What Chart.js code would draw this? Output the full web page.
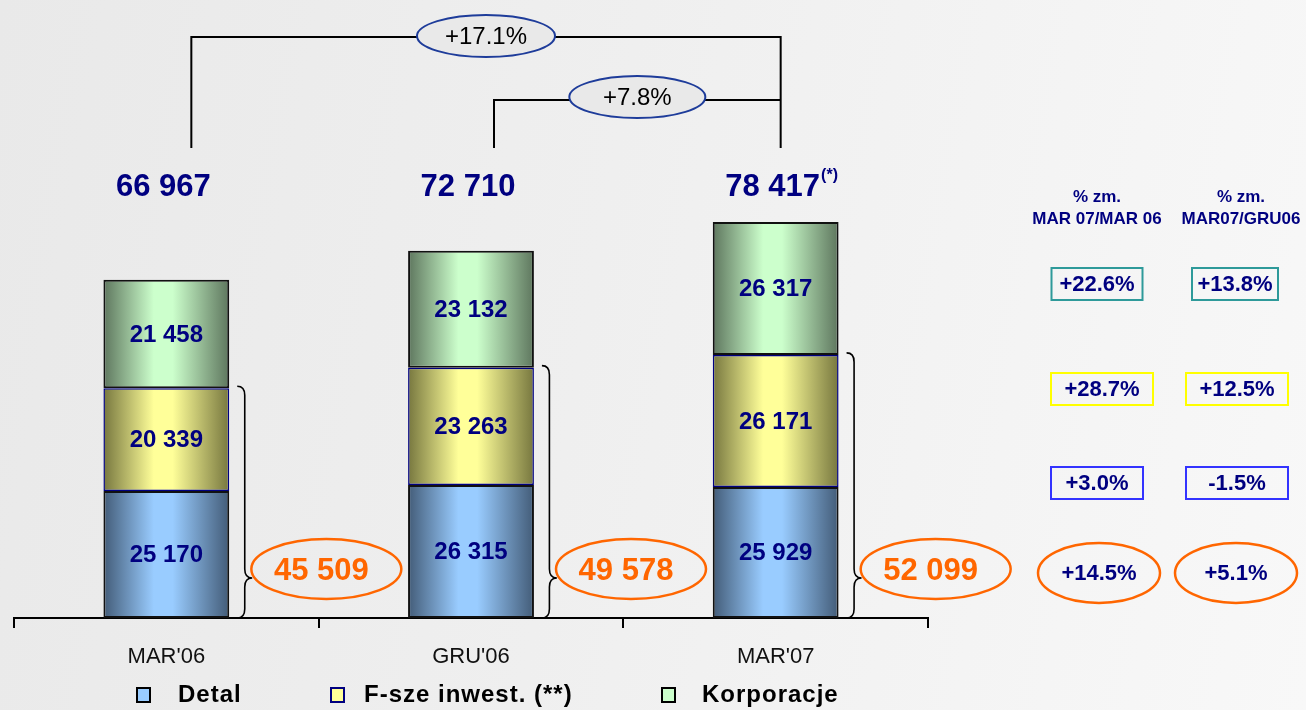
<!DOCTYPE html>
<html>
<head>
<meta charset="utf-8">
<script src="https://cdn.jsdelivr.net/npm/chart.js@4.4.1/dist/chart.umd.min.js"></script>
<style>
  html, body { margin: 0; padding: 0; }
  body {
    width: 1306px; height: 710px; overflow: hidden;
    background: linear-gradient(100deg, #e9e9e9 0%, #efefef 45%, #f8f8f8 100%);
  }
</style>
</head>
<body>
<canvas id="chart" width="1306" height="710"></canvas>
<script>
// data
const periods = ["MAR'06", "GRU'06", "MAR'07"];
const detal = [25170, 26315, 25929];
const funds = [20339, 23263, 26171];
const corporate = [21458, 23132, 26317];
const retailPlusFunds = [45509, 49578, 52099];
const totals = [66967, 72710, 78417];
const totalNotes = ["", "", "(*)"];
const growthLabels = ["+17.1%", "+7.8%"]; // vs MAR'06, vs GRU'06
// order: Detal, F-sze, Korporacje, Detal + F-sze
const changeYearHeader = ["% zm.", "MAR 07/MAR 06"];
const changeQuarterHeader = ["% zm.", "MAR07/GRU06"];
const changeYear = ["+3.0%", "+28.7%", "+22.6%", "+14.5%"];
const changeQuarter = ["-1.5%", "+12.5%", "+13.8%", "+5.1%"];

const FONT = '"Liberation Sans", Arial, sans-serif';
const NAVY = "#000080";
const ORANGE = "#ff6600";

const shades = {
  detal: ["#435c78", "#99ccff"],
  funds: ["#77773f", "#ffff99"],
  corporate: ["#5e765e", "#ccffcc"],
};

const fmt = (n) => String(n).replace(/\B(?=(\d{3})+(?!\d))/g, " ");

// cylinder-like horizontal gradient for each bar
function barFill(pair) {
  return (c) => {
    const chart = c.chart;
    if (!chart.chartArea) return pair[1];
    const xs = chart.scales.x;
    const cx = xs.getPixelForValue(c.dataIndex);
    const w = (xs.width / periods.length) * 0.413;
    const g = chart.ctx.createLinearGradient(cx - w / 2, 0, cx + w / 2, 0);
    g.addColorStop(0, pair[0]);
    g.addColorStop(0.4, pair[1]);
    g.addColorStop(0.55, pair[1]);
    g.addColorStop(1, pair[0]);
    return g;
  };
}

function ellipse(ctx, cx, cy, rx, ry, fill, stroke, lw) {
  ctx.beginPath();
  ctx.ellipse(cx, cy, rx, ry, 0, 0, Math.PI * 2);
  if (fill) { ctx.fillStyle = fill; ctx.fill(); }
  ctx.lineWidth = lw;
  ctx.strokeStyle = stroke;
  ctx.stroke();
}

function brace(ctx, x, yTop, yTip, yBot, w) {
  const m = x + w / 2, r = 9;
  ctx.beginPath();
  ctx.moveTo(x, yTop);
  ctx.quadraticCurveTo(m, yTop, m, yTop + r);
  ctx.lineTo(m, yTip - r);
  ctx.quadraticCurveTo(m, yTip, x + w, yTip);
  ctx.quadraticCurveTo(m, yTip, m, yTip + r);
  ctx.lineTo(m, yBot - r);
  ctx.quadraticCurveTo(m, yBot, x, yBot);
  ctx.lineWidth = 1.6;
  ctx.strokeStyle = "#000";
  ctx.stroke();
}

const annotations = {
  id: "annotations",
  afterDatasetsDraw(chart) {
    const ctx = chart.ctx;
    const xs = chart.scales.x;
    const base = chart.chartArea.bottom;
    const series = [detal, funds, corporate];
    ctx.save();
    ctx.textAlign = "center";
    ctx.textBaseline = "middle";

    // values inside segments
    ctx.fillStyle = NAVY;
    ctx.font = "bold 24px " + FONT;
    series.forEach((vals, d) => {
      chart.getDatasetMeta(d).data.forEach((el, i) => {
        ctx.fillText(fmt(vals[i]), el.x, (el.y + el.base) / 2 + 1);
      });
    });

    // totals above bars
    const m0 = chart.getDatasetMeta(0).data;
    totals.forEach((t, i) => {
      const x = m0[i].x - 3;
      ctx.font = "bold 31px " + FONT;
      ctx.fillStyle = NAVY;
      ctx.fillText(fmt(t), x, 187);
      if (totalNotes[i]) {
        const w = ctx.measureText(fmt(t)).width;
        ctx.font = "bold 16px " + FONT;
        ctx.textAlign = "left";
        ctx.fillText(totalNotes[i], x + w / 2 + 1, 176);
        ctx.textAlign = "center";
      }
    });

    // growth brackets on top
    const x0 = xs.getPixelForValue(0) + 25;
    const x1 = xs.getPixelForValue(1) + 23;
    const x2 = xs.getPixelForValue(2) + 5;
    ctx.strokeStyle = "#000";
    ctx.lineWidth = 2;
    ctx.beginPath();
    ctx.moveTo(x0, 148); ctx.lineTo(x0, 37); ctx.lineTo(x2, 37); ctx.lineTo(x2, 148);
    ctx.moveTo(x1, 148); ctx.lineTo(x1, 100); ctx.lineTo(x2, 100);
    ctx.stroke();
    ctx.font = "24px " + FONT;
    [[(x0 + x2) / 2, 36, 69], [(x1 + x2) / 2, 97, 68]].forEach(([cx, cy, rx], k) => {
      ellipse(ctx, cx, cy, rx, 21, "#e9e9e9", "#1e3c9a", 2);
      ctx.fillStyle = "#000";
      ctx.fillText(growthLabels[k], cx, cy + 1);
    });

    // braces and Detal + F-sze sums
    const m1 = chart.getDatasetMeta(1).data;
    retailPlusFunds.forEach((v, i) => {
      const el = m1[i];
      const right = el.x + el.width / 2;
      brace(ctx, right + 8, el.y - 2, 578, base, 15);
      ellipse(ctx, el.x + 160, 569, 75, 30, null, ORANGE, 2.5);
      ctx.fillStyle = ORANGE;
      ctx.font = "bold 31px " + FONT;
      ctx.fillText(fmt(v), el.x + 155, 571);
    });

    // change table on the right
    ctx.fillStyle = NAVY;
    ctx.font = "bold 17px " + FONT;
    [[changeYearHeader, 1097], [changeQuarterHeader, 1241]].forEach(([h, cx]) => {
      ctx.fillText(h[0], cx, 197);
      ctx.fillText(h[1], cx, 219);
    });
    const rows = [
      { y: 483, color: "#3333ff", w: [92, 102], cx: [1097, 1237] },
      { y: 389, color: "#ffff00", w: [102, 102], cx: [1102, 1237] },
      { y: 284, color: "#2e9a9a", w: [91, 86], cx: [1097, 1235] },
    ];
    ctx.font = "bold 22px " + FONT;
    rows.forEach((r, k) => {
      [changeYear[k], changeQuarter[k]].forEach((txt, j) => {
        ctx.lineWidth = 2;
        ctx.strokeStyle = r.color;
        ctx.strokeRect(r.cx[j] - r.w[j] / 2, r.y - 16, r.w[j], 32);
        ctx.fillStyle = NAVY;
        ctx.fillText(txt, r.cx[j], r.y + 1);
      });
    });
    [[changeYear[3], 1099], [changeQuarter[3], 1236]].forEach(([txt, cx]) => {
      ellipse(ctx, cx, 573, 61, 30, null, ORANGE, 2.5);
      ctx.fillStyle = NAVY;
      ctx.fillText(txt, cx, 574);
    });

    // legend
    const legendPos = [[137, 178], [331, 364], [662, 702]];
    const legendBorder = ["#000", NAVY, "#000"];
    const legendFill = [shades.detal[1], shades.funds[1], shades.corporate[1]];
    ctx.textAlign = "left";
    ctx.font = "bold 24px " + FONT;
    ctx.letterSpacing = "1px";
    chart.data.datasets.forEach((ds, d) => {
      const [bx, tx] = legendPos[d];
      ctx.fillStyle = legendFill[d];
      ctx.fillRect(bx, 688, 13, 14);
      ctx.lineWidth = 2;
      ctx.strokeStyle = legendBorder[d];
      ctx.strokeRect(bx, 688, 13, 14);
      ctx.fillStyle = "#000";
      ctx.fillText(ds.label, tx, 695);
    });
    ctx.restore();
  },
};

new Chart(document.getElementById("chart"), {
  type: "bar",
  data: {
    labels: periods,
    datasets: [
      { label: "Detal", data: detal, backgroundColor: barFill(shades.detal), borderColor: "#111", borderWidth: 2 },
      { label: "F-sze inwest. (**)", data: funds, backgroundColor: barFill(shades.funds), borderColor: NAVY, borderWidth: 1.5 },
      { label: "Korporacje", data: corporate, backgroundColor: barFill(shades.corporate), borderColor: "#111", borderWidth: 2 },
    ],
  },
  options: {
    responsive: false,
    animation: false,
    devicePixelRatio: 1,
    layout: { padding: { left: 14, right: 378, top: 12, bottom: 0 } },
    datasets: { bar: { categoryPercentage: 0.413, barPercentage: 1, borderSkipped: false } },
    plugins: { legend: { display: false }, tooltip: { enabled: false } },
    scales: {
      x: {
        stacked: true,
        afterFit: (s) => { s.height = 92; },
        grid: { drawOnChartArea: false, drawTicks: true, tickLength: 10, offset: true, color: "#000", lineWidth: 2 },
        border: { display: true, color: "#000", width: 2 },
        ticks: { color: "#111", padding: 16, font: { family: FONT, size: 22 } },
      },
      y: { stacked: true, display: false, min: 0, max: 120000 },
    },
  },
  plugins: [annotations],
});
</script>
</body>
</html>
